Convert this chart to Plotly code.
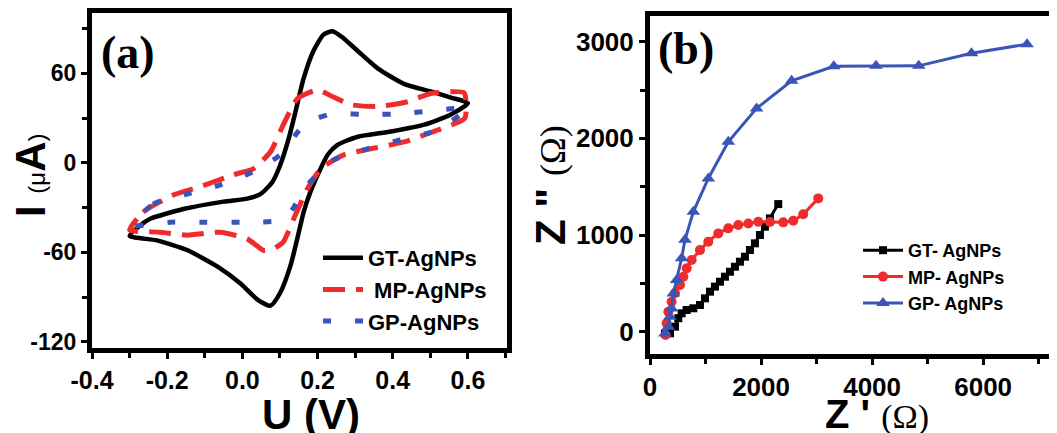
import plotly.graph_objects as go

# ---------------- Panel (a): cyclic voltammograms ----------------
gt_u = [-0.300, -0.272, -0.245, -0.157, -0.050, 0.013, 0.048, 0.080, 0.101, 0.123, 0.141, 0.163, 0.189, 0.216, 0.240,
        0.269, 0.307, 0.360, 0.430, 0.501, 0.555, 0.600,
        0.555, 0.484, 0.395, 0.307, 0.253, 0.227, 0.208, 0.181, 0.163, 0.146, 0.128, 0.101, 0.075, 0.040, -0.005,
        -0.067, -0.147, -0.227, -0.300]
gt_i = [-49, -42, -37.5, -31, -26, -24, -21, -12.8, -1.3, 16, 34, 56.6, 75, 86, 88.3,
        83.6, 75, 63.4, 53, 47.9, 43.8, 40,
        32.5, 25.6, 21, 17.5, 12, 5.4, -4, -19.5, -33, -51, -69, -87, -95.8, -91.7, -81,
        -69.5, -58.5, -52, -49]

mp_u = [-0.300, -0.264, -0.184, -0.112, -0.024, 0.029, 0.075, 0.109, 0.146, 0.200, 0.235, 0.288, 0.360, 0.440,
        0.501, 0.590, 0.592,
        0.520, 0.430, 0.341, 0.270, 0.235, 0.208, 0.173, 0.136, 0.109, 0.080, 0.056, 0.013, -0.059, -0.147,
        -0.219, -0.300]
mp_i = [-45, -33, -21.6, -16, -8, -4, 7.4, 25.6, 43, 49, 45, 39, 37.8, 41,
        46.5, 47, 30,
        22, 14, 9.4, 5.4, 0.7, -4, -17.5, -37.8, -53, -58, -58.7, -51, -46.5, -48.5,
        -46.5, -45]

gp_u = [-0.295, -0.237, -0.147, -0.059, 0.029, 0.101, 0.155, 0.200, 0.243, 0.341, 0.430, 0.528, 0.598,
        0.520, 0.421, 0.333, 0.243, 0.173, 0.128, 0.090, 0.029, -0.005, -0.099, -0.192, -0.295]
gp_i = [-42, -27.6, -20.9, -14.8, -6, 5.4, 23, 30, 33, 32.4, 33, 35.7, 36.4,
        22, 15.5, 9.4, 2, -14.8, -33, -39, -39.8, -39.8, -39.8, -39.8, -42]

# ---------------- Panel (b): Nyquist plots ----------------
gt_zr = [270, 360, 450, 510, 570, 660, 780, 900, 990, 1080, 1170, 1260, 1350, 1440, 1530, 1620, 1710,
         1800, 1890, 1980, 2070, 2160, 2310]
gt_zi = [-20, -17, 52, 139, 190, 224, 242, 276, 345, 414, 466, 517, 569, 620, 672, 724, 776,
         845, 914, 1000, 1086, 1172, 1320]

mp_zr = [280, 300, 330, 390, 450, 540, 600, 660, 750, 900, 1050, 1230, 1410, 1590, 1770, 1950, 2160,
         2400, 2580, 2760, 3030]
mp_zi = [-35, 87, 207, 310, 397, 483, 569, 655, 741, 844, 931, 1017, 1069, 1103, 1120, 1137, 1134,
         1131, 1148, 1214, 1379]

gp_zr = [270, 330, 360, 390, 420, 480, 570, 630, 780, 1050, 1410, 1920, 2550, 3310, 4070, 4840, 5790, 6790]
gp_zi = [-20, 50, 155, 240, 395, 535, 760, 950, 1240, 1585, 1965, 2310, 2595, 2745, 2750, 2750, 2880, 2975]

# tick labels
a_xticks = [-0.4, -0.2, 0.0, 0.2, 0.4, 0.6]
a_xlabels = ["-0.4", "-0.2", "0.0", "0.2", "0.4", "0.6"]
a_yticks = [-120, -60, 0, 60]
a_ylabels = ["-120", "-60", "0", "60"]
b_xticks = [0, 2000, 4000, 6000]
b_xlabels = ["0", "2000", "4000", "6000"]
b_yticks = [0, 1000, 2000, 3000]
b_ylabels = ["0", "1000", "2000", "3000"]

# the page body adds an 8px offset; the figure is sized so it ends at the window edge
OFF = 8
W, H = 1057 - OFF, 433 - OFF
def fx(p):
    return (p - OFF) / W
def fy(p):
    return 1 - (p - OFF) / H

BLACK = "#000000"
RED = "#ef2b2b"
BLUE = "#3a54b8"

fig = go.Figure()

fig.add_trace(go.Scatter(x=gt_u, y=gt_i, mode="lines", name="GT-AgNPs",
                         line=dict(color=BLACK, width=4.5, shape="spline", smoothing=0.6),
                         xaxis="x", yaxis="y", legend="legend"))
fig.add_trace(go.Scatter(x=mp_u, y=mp_i, mode="lines", name=" MP-AgNPs",
                         line=dict(color=RED, width=5, dash="22px,11px", shape="spline", smoothing=0.5),
                         xaxis="x", yaxis="y", legend="legend"))
fig.add_trace(go.Scatter(x=gp_u, y=gp_i, mode="lines", name="GP-AgNPs",
                         line=dict(color=BLUE, width=5, dash="8px,24px", shape="spline", smoothing=0.5),
                         xaxis="x", yaxis="y", legend="legend"))

fig.add_trace(go.Scatter(x=gt_zr, y=gt_zi, mode="lines+markers", name="GT- AgNPs",
                         line=dict(color=BLACK, width=3),
                         marker=dict(symbol="square", size=8, color=BLACK),
                         xaxis="x2", yaxis="y2", legend="legend2"))
fig.add_trace(go.Scatter(x=mp_zr, y=mp_zi, mode="lines+markers", name="MP- AgNPs",
                         line=dict(color=RED, width=3),
                         marker=dict(symbol="circle", size=10, color=RED),
                         xaxis="x2", yaxis="y2", legend="legend2"))
fig.add_trace(go.Scatter(x=gp_zr, y=gp_zi, mode="lines+markers", name="GP- AgNPs",
                         line=dict(color=BLUE, width=3),
                         marker=dict(symbol="triangle-up", size=12, color=BLUE),
                         xaxis="x2", yaxis="y2", legend="legend2"))

def axis(size, **kw):
    d = dict(showline=True, linewidth=5, linecolor=BLACK, ticks="outside", ticklen=6,
             tickwidth=3, tickcolor=BLACK, showgrid=False, zeroline=False, automargin=False,
             tickfont=dict(family="Liberation Sans", size=size, color=BLACK, weight="bold"))
    d.update(kw)
    return d

fig.update_layout(
    width=W, height=H, margin=dict(l=0, r=0, t=0, b=0, autoexpand=False),
    plot_bgcolor="white", paper_bgcolor="white",
    xaxis=axis(25, domain=[fx(92), fx(507)], range=[-0.4, 0.704], anchor="y", mirror=True,
               tickmode="array", tickvals=a_xticks, ticktext=a_xlabels,
               minor=dict(dtick=0.1, tick0=0, ticks="outside", ticklen=5, tickwidth=3, tickcolor=BLACK)),
    yaxis=axis(23, domain=[fy(348), fy(13)], range=[-124.2, 100.5], anchor="x", mirror=True,
               tickmode="array", tickvals=a_yticks, ticktext=a_ylabels,
               minor=dict(dtick=30, tick0=0, ticks="outside", ticklen=5, tickwidth=3, tickcolor=BLACK)),
    xaxis2=axis(26, domain=[fx(650), 1.0], range=[0, 7330], anchor="y2", mirror=True,
                tickmode="array", tickvals=b_xticks, ticktext=b_xlabels,
                minor=dict(dtick=1000, tick0=0, ticks="outside", ticklen=5, tickwidth=3, tickcolor=BLACK)),
    yaxis2=axis(26, domain=[fy(354), fy(16)], range=[-231, 3266], anchor="x2", mirror=False,
                tickmode="array", tickvals=b_yticks, ticktext=b_ylabels,
                minor=dict(dtick=500, tick0=0, ticks="outside", ticklen=5, tickwidth=3, tickcolor=BLACK)),
    legend=dict(x=fx(318), y=fy(237), xanchor="left", yanchor="top", bgcolor="rgba(0,0,0,0)",
                font=dict(family="Liberation Sans", size=22, color=BLACK, weight="bold"),
                tracegroupgap=0, itemwidth=40),
    legend2=dict(x=fx(858), y=fy(232), xanchor="left", yanchor="top", bgcolor="rgba(0,0,0,0)",
                 font=dict(family="Liberation Sans", size=18, color=BLACK, weight="bold"),
                 tracegroupgap=0, itemwidth=40),
    showlegend=True,
)

ann = []
ann.append(dict(text="(a)", x=fx(128), y=fy(53), xref="paper", yref="paper", showarrow=False,
                xanchor="center", yanchor="middle",
                font=dict(family="Liberation Serif", size=46, color=BLACK, weight="bold")))
ann.append(dict(text="(b)", x=fx(686), y=fy(48), xref="paper", yref="paper", showarrow=False,
                xanchor="center", yanchor="middle",
                font=dict(family="Liberation Serif", size=46, color=BLACK, weight="bold")))
ann.append(dict(text="U (V)", x=fx(311), y=fy(414), xref="paper", yref="paper", showarrow=False,
                xanchor="center", yanchor="middle",
                font=dict(family="Liberation Sans", size=42, color=BLACK, weight="bold")))
ann.append(dict(text="I <span style='font-size:24px;font-weight:normal'>(\u03bc</span>A<span style='font-size:24px;font-weight:normal'>)</span>",
                x=fx(30), y=fy(175), xref="paper", yref="paper", showarrow=False, textangle=-90,
                xanchor="center", yanchor="middle",
                font=dict(family="Liberation Sans", size=42, color=BLACK, weight="bold")))
ann.append(dict(text="Z ' <span style='font-family:Liberation Serif;font-size:34px;font-weight:normal'>(\u03a9)</span>",
                x=fx(877), y=fy(414), xref="paper", yref="paper", showarrow=False,
                xanchor="center", yanchor="middle",
                font=dict(family="Liberation Sans", size=40, color=BLACK, weight="bold")))
ann.append(dict(text="Z \" <span style='font-family:Liberation Serif;font-size:36px;font-weight:normal'>(\u03a9)</span>",
                x=fx(550), y=fy(185), xref="paper", yref="paper", showarrow=False, textangle=-90,
                xanchor="center", yanchor="middle",
                font=dict(family="Liberation Sans", size=42, color=BLACK, weight="bold")))
fig.update_layout(annotations=ann)

fig.write_html("out.html")
